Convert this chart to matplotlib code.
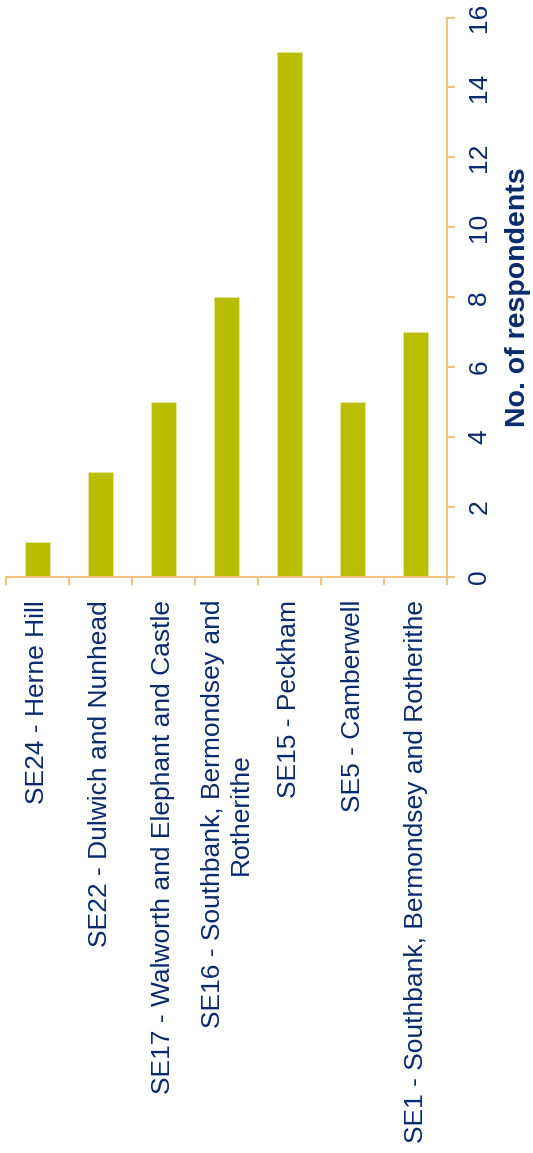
import matplotlib
matplotlib.use("Agg")
import matplotlib.pyplot as plt

# Respondents by postcode area
categories = [
    "SE24 - Herne Hill",
    "SE22 - Dulwich and Nunhead",
    "SE17 - Walworth and Elephant and Castle",
    "SE16 - Southbank, Bermondsey and\nRotherithe",
    "SE15 - Peckham",
    "SE5 - Camberwell",
    "SE1 - Southbank, Bermondsey and Rotherithe",
]
respondents = [1, 3, 5, 8, 15, 5, 7]
value_ticks = [0, 2, 4, 6, 8, 10, 12, 14, 16]

BAR = "#B9BF00"
AXIS = "#F3C383"
TEXT = "#0B2A6B"

plt.rcParams["font.family"] = ["Liberation Sans", "DejaVu Sans"]

W, H = 533, 1153
fig = plt.figure(figsize=(W / 100, H / 100), dpi=100)
left, right, top, bottom = 6, 447, 17.5, 577
ax = fig.add_axes([left / W, 1 - bottom / H, (right - left) / W, (bottom - top) / H])

x = list(range(len(categories)))
ax.bar(x, respondents, width=0.4, color=BAR, edgecolor="#E4E6A0", linewidth=0.6, zorder=2)

ax.set_xlim(-0.5, len(categories) - 0.5)
ax.set_ylim(0, 16)

# category axis: boundary ticks, centred labels
ax.set_xticks([i - 0.5 for i in range(len(categories) + 1)])
ax.set_xticklabels([])
ax.set_xticks(x, minor=True)
ax.set_xticklabels(categories, minor=True, rotation=90, ha="center", va="top",
                   multialignment="center", fontsize=19, color=TEXT)
ax.tick_params(axis="x", which="minor", length=0, pad=16.5)
ax.tick_params(axis="x", which="major", length=6, width=1.5, color=AXIS, direction="out")

# value axis on the right
ax.yaxis.tick_right()
ax.yaxis.set_label_position("right")
ax.set_yticks(value_ticks)
ax.set_yticklabels([str(v) for v in value_ticks], rotation=90, va="center", ha="left",
                   fontsize=19, color=TEXT)
ax.tick_params(axis="y", length=6, width=1.5, color=AXIS, direction="out", pad=8.5)
ax.set_ylabel("No. of respondents", fontsize=20.5, fontweight="bold", color=TEXT,
              rotation=90, labelpad=10)

for side in ("top", "left"):
    ax.spines[side].set_visible(False)
for side in ("bottom", "right"):
    ax.spines[side].set_color(AXIS)
    ax.spines[side].set_linewidth(1.5)

fig.savefig("out.png", dpi=100)
